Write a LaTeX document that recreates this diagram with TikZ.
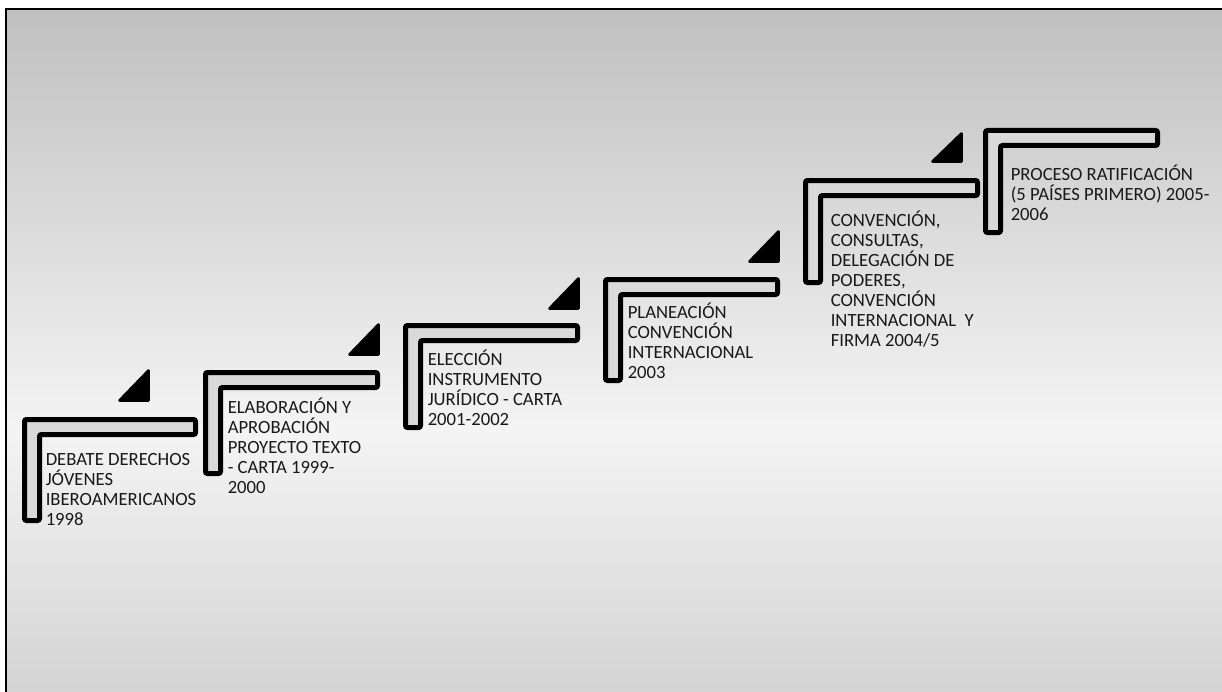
\documentclass[tikz,border=0pt]{standalone}
\usepackage{fontspec}
\setmainfont{Carlito}
\usepackage{tikz}
\definecolor{gray192}{HTML}{C0C0C0}
\definecolor{gray244}{HTML}{F4F4F4}
\definecolor{gray217}{HTML}{D9D9D9}
\tikzstyle{fondo}=[draw=black, line width=1.9pt, top color=gray192, bottom color=gray192, middle color=gray244]
\tikzstyle{escalon}=[draw=black, fill=gray217, line width=3.75pt, rounded corners=1.5pt]
\tikzstyle{flecha}=[draw=black, fill=black, line width=2pt, line join=round]
\tikzstyle{texto}=[anchor=north west, inner sep=0pt, align=left, yshift=13pt, text=black!90, font=\fontsize{14pt}{15pt}\selectfont]
\newcommand{\tope}{\rule{0pt}{13pt}}

\begin{document}
\begin{tikzpicture}[x=0.75pt, y=-0.75pt]
	\useasboundingbox (0,0) rectangle (1222,692);
	\clip (0,0) rectangle (1222,692);
	\draw[fondo] (6,9) rectangle (1300,850);
	% escalones
	\draw[escalon] (24.5,419.5) -- ++(171,0) -- ++(0,15) -- ++(-156,0) -- ++(0,86) -- ++(-15,0) -- cycle;
	\draw[escalon] (205.5,372.5) -- ++(172,0) -- ++(0,15) -- ++(-157,0) -- ++(0,86) -- ++(-15,0) -- cycle;
	\draw[escalon] (405.5,325.5) -- ++(172,0) -- ++(0,15) -- ++(-157,0) -- ++(0,87) -- ++(-15,0) -- cycle;
	\draw[escalon] (605.5,279.5) -- ++(172,0) -- ++(0,15) -- ++(-157,0) -- ++(0,86) -- ++(-15,0) -- cycle;
	\draw[escalon] (805.5,180.5) -- ++(172,0) -- ++(0,15) -- ++(-157,0) -- ++(0,87) -- ++(-15,0) -- cycle;
	\draw[escalon] (985.5,130.5) -- ++(172,0) -- ++(0,15) -- ++(-157,0) -- ++(0,87) -- ++(-15,0) -- cycle;
	% flechas
	\draw[flecha] (119.5,400.5) -- ++(29,0) -- ++(0,-30) -- cycle;
	\draw[flecha] (349.5,354.5) -- ++(29,0) -- ++(0,-30) -- cycle;
	\draw[flecha] (549.5,308.5) -- ++(29,0) -- ++(0,-30) -- cycle;
	\draw[flecha] (749.5,261.5) -- ++(29,0) -- ++(0,-30) -- cycle;
	\draw[flecha] (932.5,161.5) -- ++(29,0) -- ++(0,-28) -- cycle;
	% textos
	\node[texto] (t1) at (45.5,465) {\tope DEBATE DERECHOS\\JÓVENES\\IBEROAMERICANOS\\1998};
	\node[texto] (t2) at (227.5,413) {\tope ELABORACIÓN Y\\APROBACIÓN\\PROYECTO TEXTO\\- CARTA 1999-\\2000};
	\node[texto] (t3) at (427.5,365) {\tope ELECCIÓN\\INSTRUMENTO\\JURÍDICO - CARTA\\2001-2002};
	\node[texto] (t4) at (627.5,318) {\tope PLANEACIÓN\\CONVENCIÓN\\INTERNACIONAL\\2003};
	\node[texto] (t5) at (830.5,226) {\tope CONVENCIÓN,\\CONSULTAS,\\DELEGACIÓN DE\\PODERES,\\CONVENCIÓN\\INTERNACIONAL~ Y\\FIRMA 2004/5};
	\node[texto] (t6) at (1010.5,180) {\tope PROCESO RATIFICACIÓN\\(5 PAÍSES PRIMERO) 2005-\\2006};
\end{tikzpicture}
\end{document}
